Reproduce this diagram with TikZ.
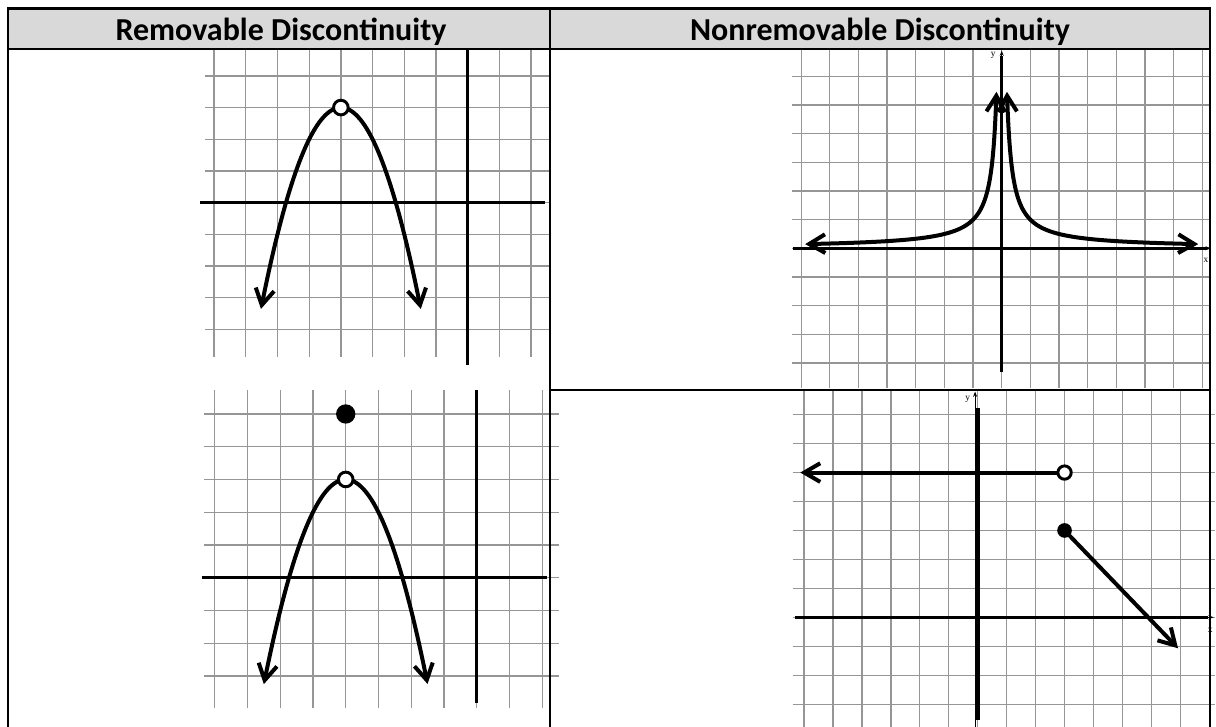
\documentclass[tikz,border=0pt]{standalone}
\usepackage{fontspec}
\setmainfont{Carlito}
\newfontfamily\axisfont{Liberation Serif}
\usetikzlibrary{arrows.meta}
\definecolor{HeadGray}{HTML}{D9D9D9}
\definecolor{GridGray}{HTML}{969696}

\begin{document}
\begin{tikzpicture}[x=0.75pt,y=-0.75pt]
  \tikzset{
    gridline/.style={draw=GridGray,line width=0.95pt},
    axisline/.style={draw=black,line width=2.2pt},
    graphline/.style={
      draw=black,
      line width=3pt,
      line cap=round,
      line join=round,
      >={Straight Barb[length=12pt,width=14pt]}
    },
    tableline/.style={draw=black,line width=2.2pt},
    hole/.style={circle,draw=black,fill=white,line width=2.2pt,inner sep=0pt,minimum size=11pt},
    dot/.style={circle,fill=black,inner sep=0pt,minimum size=14.5pt},
    headtext/.style={font=\fontsize{24}{28}\selectfont\bfseries,anchor=base},
    axislabel/.style={font=\axisfont\fontsize{7}{8}\selectfont,inner sep=0pt},
    smallaxis/.style={draw=black,line width=0.9pt,-{Stealth[length=4pt,width=3pt]}}
  }

  \useasboundingbox[fill=white] (0,0) rectangle (1216,727);

  % ------------------------------------------------------------------
  % Header row
  % ------------------------------------------------------------------
  \fill[HeadGray] (8,9) rectangle (1210,49);
  \node[headtext] (remhead) at (281,41) {Removable Discontinuity};
  \node[headtext] (nonhead) at (880,41) {Nonremovable Discontinuity};

  % ------------------------------------------------------------------
  % Removable, top: hole at the vertex
  % ------------------------------------------------------------------
  \begin{scope}[shift={(467.7,202.7)},x=23.78pt,y=23.78pt]
    \foreach \i in {-8,...,2}
      \draw[gridline] (\i,4.82) -- (\i,-4.87);
    \foreach \j in {-4,...,4}
      \draw[gridline] (-8.29,\j) -- (2.56,\j);
    \draw[axisline] (-8.44,0) -- (2.44,0);
    \draw[axisline] (0,4.82) -- (0,-5.12);
    \draw[graphline,<->] plot[domain=-6.52:-1.48,samples=80] (\x,{3-(\x+4)^2});
    \node[hole] (holeA) at (-4,3) {};
  \end{scope}

  % ------------------------------------------------------------------
  % Removable, bottom: hole plus a point above it
  % ------------------------------------------------------------------
  \begin{scope}[shift={(476.7,577.7)},x=24.56pt,y=24.56pt]
    \foreach \i in {-8,...,2}
      \draw[gridline] (\i,5.73) -- (\i,-3.98);
    \foreach \j in {-3,...,5}
      \draw[gridline] (-8.32,\j) -- (2.5,\j);
    \draw[axisline] (-8.38,0) -- (2.15,0);
    \draw[axisline] (0,5.73) -- (0,-3.83);
    \draw[graphline,<->] plot[domain=-6.5:-1.5,samples=80] (\x,{3-(\x+4)^2});
    \node[hole] (holeB) at (-4,3) {};
    \node[dot] (dotB) at (-4,5) {};
  \end{scope}

  % ------------------------------------------------------------------
  % Nonremovable, top: vertical asymptote
  % ------------------------------------------------------------------
  \begin{scope}[shift={(1001.7,248.3)},x=21.49pt,y=21.49pt]
    \foreach \i in {-7,...,7}
      \draw[gridline] (\i,6.92) -- (\i,-4.88);
    \foreach \j in {-4,...,6}
      \draw[gridline] (-7.32,\j) -- (7.26,\j);
    \draw[axisline] (-7.3,0) -- (7.15,0);
    \draw[smallaxis] (7,0) -- (7.3,0);
    \draw[axisline] (0,-4.32) -- (0,6.7);
    \draw[smallaxis] (0,6.6) -- (0,6.9);
    \node[axislabel] (xlabC) at (7.13,-0.41) {x};
    \node[axislabel] (ylabC) at (-0.3,6.72) {y};
    \draw[graphline,<->] plot[variable=\t,domain=-1.698:1.926,samples=80]
      ({-exp(\t)},{exp(-\t)});
    \draw[graphline,<->] plot[variable=\t,domain=-1.698:1.926,samples=80]
      ({exp(\t)},{exp(-\t)});
  \end{scope}

  % ------------------------------------------------------------------
  % Nonremovable, bottom: jump
  % ------------------------------------------------------------------
  \begin{scope}[shift={(977.7,617.3)},x=21.71pt,y=21.71pt]
    \foreach \i in {-6,...,8}
      \draw[gridline] (\i,7.84) -- (\i,-3.9);
    \foreach \j in {-3,...,7}
      \draw[gridline] (-6.39,\j) -- (8.2,\j);
    \draw[smallaxis] (-0.09,-3.9) -- (-0.09,7.8);
    \draw[axisline,line width=3pt] (0,-3.54) -- (0,7.23);
    \draw[axisline] (-6.3,0) -- (7.95,0);
    \draw[smallaxis] (7.8,0) -- (8.15,0);
    \node[axislabel] (xlabD) at (8.03,-0.44) {x};
    \node[axislabel] (ylabD) at (-0.35,7.54) {y};
    \node[hole,minimum size=10pt] (holeD) at (3,5) {};
    \node[dot,minimum size=11pt] (dotD) at (3,3) {};
    \coordinate (leftend) at (-6.13,5);
    \coordinate (rightend) at (6.92,-1.07);
    \draw[graphline,->] (holeD) -- (leftend);
    \draw[graphline,->] (dotD) -- (rightend);
  \end{scope}

  % ------------------------------------------------------------------
  % Table rules
  % ------------------------------------------------------------------
  \draw[tableline] (6.9,8.5) -- (1211.1,8.5);
  \draw[tableline] (8,7.4) -- (8,730);
  \draw[tableline] (1210,7.4) -- (1210,730);
  \draw[tableline,line width=1.5pt] (8,49.5) -- (1210,49.5);
  \draw[tableline,line width=1.5pt] (549.5,9) -- (549.5,730);
  \draw[tableline,line width=1.3pt] (549.5,390) -- (1210,390);
\end{tikzpicture}
\end{document}
